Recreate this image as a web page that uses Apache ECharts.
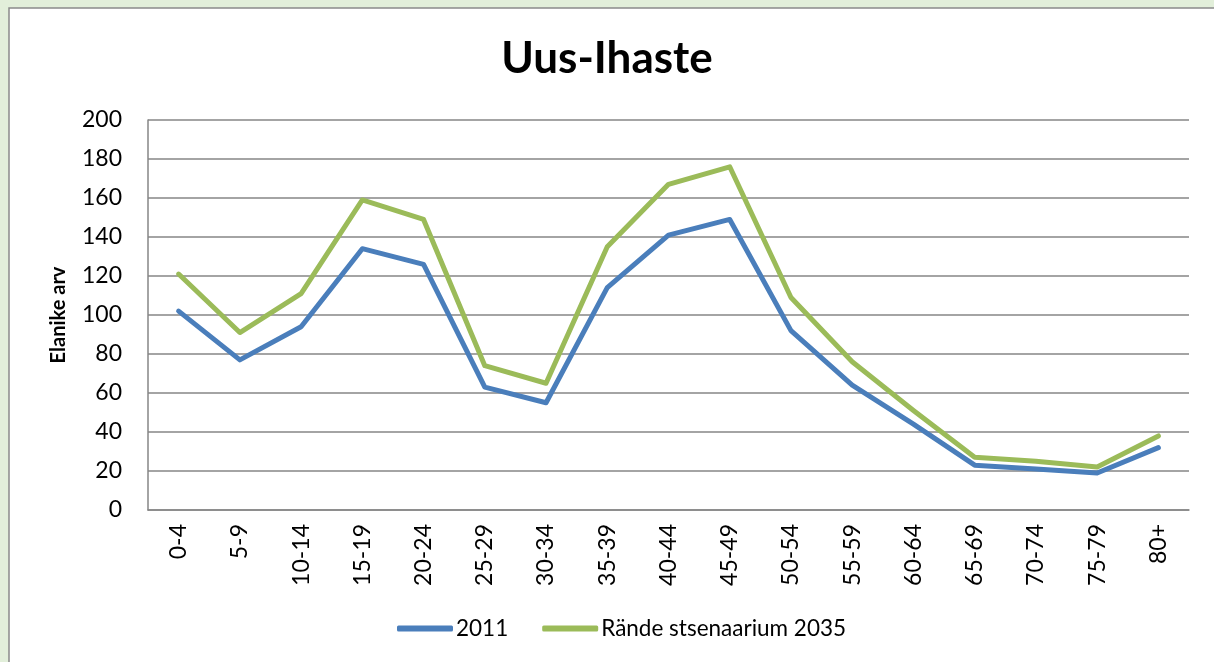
<!DOCTYPE html>
<html>
<head>
<meta charset="utf-8">
<script src="https://cdn.jsdelivr.net/npm/echarts@6/dist/echarts.min.js"></script>
<style>
html,body{margin:0;padding:0;background:#E2EFDA;}
#c{width:1214px;height:662px;}
</style>
</head>
<body>
<div id="c"></div>
<script>
const categories = ['0-4','5-9','10-14','15-19','20-24','25-29','30-34','35-39','40-44','45-49','50-54','55-59','60-64','65-69','70-74','75-79','80+'];
const series2011 = [102,77,94,134,126,63,55,114,141,149,92,64,44,23,21,19,32];
const series2035 = [121,91,111,159,149,74,65,135,167,176,109,76,51,27,25,22,38];
const seriesNames = ['2011','Rände stsenaarium 2035'];
const yTicks = {min:0, max:200, interval:20};

const chart = echarts.init(document.getElementById('c'));
const font = 'Lato, "Open Sans", sans-serif';
chart.setOption({
  backgroundColor: '#E2EFDA',
  animation: false,
  textStyle: {fontFamily: font},
  graphic: [{
    type: 'rect', silent: true, z: -10,
    shape: {x: 9, y: 8, width: 1230, height: 680},
    style: {fill: '#ffffff', stroke: '#8a8a8a', lineWidth: 1.5}
  }],
  title: {
    text: 'Uus-Ihaste', left: 'center', top: 32,
    textStyle: {fontFamily: font, fontSize: 44, fontWeight: 'bold', color: '#000'}
  },
  grid: {left: 148, top: 120, right: 25, bottom: 152},
  legend: {
    bottom: 17, left: 392, itemWidth: 56, itemHeight: 6, itemGap: 34,
    icon: 'roundRect',
    textStyle: {fontFamily: font, fontSize: 22.5, color: '#000', padding: [0,0,0,-2]},
    data: seriesNames
  },
  xAxis: {
    type: 'category', data: categories, boundaryGap: true,
    axisLine: {show: true, lineStyle: {color: '#868686', width: 1.5}},
    axisTick: {show: false},
    axisLabel: {rotate: 90, fontSize: 23, color: '#000', margin: 14, fontFamily: font, interval: 0}
  },
  yAxis: {
    type: 'value', min: yTicks.min, max: yTicks.max, interval: yTicks.interval,
    name: 'Elanike arv', nameLocation: 'middle', nameGap: 79,
    nameTextStyle: {fontSize: 20, fontWeight: 'bold', color: '#000', fontFamily: font},
    axisLine: {show: true, lineStyle: {color: '#868686', width: 1.5}},
    axisTick: {show: false},
    axisLabel: {fontSize: 23, color: '#000', margin: 26, fontFamily: font},
    splitLine: {lineStyle: {color: '#868686', width: 1.5}}
  },
  series: [
    {name: seriesNames[0], type: 'line', data: series2011, symbol: 'none',
     lineStyle: {color: '#4A7EBB', width: 5, cap: 'round', join: 'round'}, itemStyle: {color: '#4A7EBB'}},
    {name: seriesNames[1], type: 'line', data: series2035, symbol: 'none',
     lineStyle: {color: '#9BBB59', width: 5, cap: 'round', join: 'round'}, itemStyle: {color: '#9BBB59'}}
  ]
});
</script>
</body>
</html>
